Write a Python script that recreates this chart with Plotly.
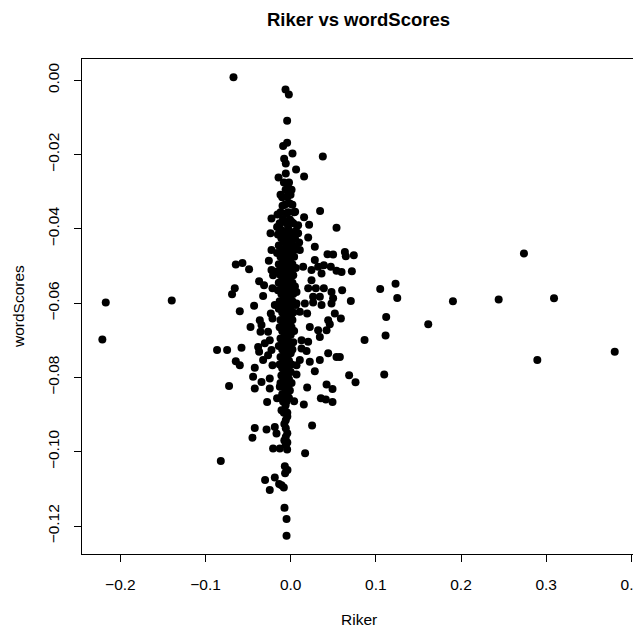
import plotly.graph_objects as go

# Outlying / scattered points
riker_outer = [
    -0.2172, -0.1397, -0.2212, 0.2739, 0.2442, 0.3092, 0.2896, 0.3805,
    0.0636, 0.0647, 0.0741, 0.0597, 0.0718, 0.0604, 0.1051, 0.1231, 0.1251, 0.0706,
    0.1905, 0.0589, 0.1121, 0.1615, 0.1114, 0.0867, 0.0577, 0.0686, 0.0761, 0.1098,
    -0.0672, -0.0061, -0.0022, -0.0042, -0.0042, -0.0089, 0.0021, 0.0377, -0.0077,
    -0.0058, 0.0063, 0.0157, -0.0143, -0.0058, -0.0031, -0.0120, -0.0002, -0.0049,
    -0.0096, -0.0011, 0.0345, -0.0226, -0.0155, 0.0052, 0.0157, 0.0216, 0.0538,
    -0.0058, -0.0089, 0.0009, 0.0087, -0.0160, -0.0031,
    -0.0237, -0.0128, 0.0087, 0.0205, 0.0099, 0.0283, -0.0226, 0.0107, 0.0432, 0.0498,
    -0.0645, -0.0567, -0.0489, -0.0257, -0.0226, -0.0207, 0.0146, 0.0244, 0.0283,
    0.0322, 0.0389, 0.0362, 0.0471, 0.0538, 0.0244, -0.0371, -0.0313, -0.0657,
    -0.0689, -0.0324, -0.0214, 0.0068, 0.0205, 0.0295, 0.0389, 0.0479, 0.0263,
    0.0342, 0.0498, 0.0479, -0.0430, -0.0187, 0.0068, 0.0166, 0.0263, 0.0362,
    -0.0598, -0.0234, 0.0107, 0.0193, 0.0518, -0.0363, -0.0214, 0.0440, -0.0472,
    -0.0343, 0.0224, 0.0459, -0.0355, 0.0322, 0.0421, -0.0266, 0.0342, -0.0246,
    0.0127, 0.0205, -0.0304, -0.0865, -0.0747, -0.0578, -0.0383, -0.0371, -0.0226,
    0.0127, 0.0186, 0.0440, 0.0538, -0.0266, -0.0645, -0.0598, -0.0324, 0.0107,
    0.0224, 0.0342, -0.0214, -0.0422, 0.0068, 0.0283, -0.0442, -0.0343, -0.0246,
    0.0068, -0.0724, -0.0422, -0.0246, 0.0193, 0.0421, 0.0491, -0.0128,
    -0.0277, 0.0040, 0.0154, 0.0354, 0.0412, 0.0491, -0.0160, -0.0108, -0.0058,
    -0.0058, -0.0058, -0.0058, -0.0058, -0.0187, -0.0167, -0.0284, -0.0422, -0.0449,
    0.0251, -0.0207, -0.0128, -0.0042, 0.0169, -0.0821, -0.0069, -0.0038, -0.0066,
    -0.0301, -0.0187, -0.0136, -0.0081, -0.0246, -0.0108, -0.0073, -0.0049, -0.0049,
    -0.0040, -0.0075, -0.0040, -0.0075, -0.0040,
]
wordscores_outer = [
    -0.0598, -0.0593, -0.0698, -0.0466, -0.0590, -0.0587, -0.0753, -0.0731,
    -0.0462, -0.0474, -0.0471, -0.0516, -0.0514, -0.0565, -0.0562, -0.0548, -0.0586, -0.0594,
    -0.0595, -0.0641, -0.0637, -0.0657, -0.0687, -0.0699, -0.0745, -0.0794, -0.0813, -0.0792,
    0.0008, -0.0025, -0.0038, -0.0109, -0.0168, -0.0177, -0.0197, -0.0205, -0.0211,
    -0.0224, -0.0240, -0.0259, -0.0262, -0.0251, -0.0278, -0.0308, -0.0308, -0.0296,
    -0.0338, -0.0332, -0.0352, -0.0372, -0.0361, -0.0354, -0.0369, -0.0389, -0.0397,
    -0.0359, -0.0377, -0.0381, -0.0390, -0.0395, -0.0399,
    -0.0412, -0.0399, -0.0412, -0.0423, -0.0437, -0.0448, -0.0457, -0.0457, -0.0468, -0.0469,
    -0.0496, -0.0492, -0.0509, -0.0486, -0.0511, -0.0525, -0.0502, -0.0511, -0.0484,
    -0.0502, -0.0498, -0.0520, -0.0502, -0.0513, -0.0538, -0.0541, -0.0552, -0.0560,
    -0.0576, -0.0581, -0.0560, -0.0570, -0.0560, -0.0560, -0.0560, -0.0570, -0.0583,
    -0.0583, -0.0587, -0.0601, -0.0607, -0.0605, -0.0601, -0.0601, -0.0598, -0.0605,
    -0.0622, -0.0628, -0.0623, -0.0628, -0.0628, -0.0646, -0.0641, -0.0646, -0.0664,
    -0.0659, -0.0664, -0.0657, -0.0677, -0.0673, -0.0673, -0.0677, -0.0691, -0.0700,
    -0.0700, -0.0704, -0.0708, -0.0726, -0.0726, -0.0720, -0.0718, -0.0731, -0.0726,
    -0.0722, -0.0729, -0.0735, -0.0745, -0.0740, -0.0756, -0.0767, -0.0753, -0.0753,
    -0.0758, -0.0753, -0.0767, -0.0774, -0.0767, -0.0783, -0.0798, -0.0812, -0.0803,
    -0.0792, -0.0823, -0.0830, -0.0830, -0.0827, -0.0819, -0.0831, -0.0825,
    -0.0866, -0.0864, -0.0873, -0.0856, -0.0859, -0.0866, -0.0856, -0.0888, -0.0892,
    -0.0915, -0.0937, -0.0960, -0.0982, -0.0933, -0.0951, -0.0940, -0.0936, -0.0962,
    -0.0929, -0.0991, -0.0991, -0.0994, -0.1004, -0.1025, -0.1039, -0.1049, -0.1058,
    -0.1076, -0.1069, -0.1087, -0.1096, -0.1103, -0.1090, -0.1151, -0.1181, -0.1226,
    -0.0905, -0.0925, -0.0950, -0.0970, -0.0975,
]

# Dense central column near Riker = 0
riker_core = [
    -0.008, -0.002, -0.006, 0.001, -0.010, -0.004, -0.007, 0.002,
    -0.012, -0.003, 0.004, -0.009, -0.001, -0.013, -0.005, 0.003,
    -0.010, -0.002, 0.006, -0.015, -0.006, 0.001, -0.011, -0.003, 0.005,
    -0.008, 0.000, -0.014, -0.005, 0.003, -0.010, -0.002, 0.007,
    -0.016, -0.006, 0.001, -0.012, -0.004, 0.004, -0.009, -0.001,
    -0.014, -0.006, 0.002, -0.010, -0.003, 0.006, -0.016, -0.007, 0.000,
    -0.012, -0.004, 0.003, -0.009, -0.001, -0.014, -0.006, 0.002,
    -0.010, -0.003, 0.005, -0.015, -0.007, 0.000, -0.011, -0.004, 0.003,
    -0.008, -0.001, -0.013, -0.005, 0.002, -0.009, -0.002, 0.006,
    -0.014, -0.006, 0.000, -0.010, -0.003, 0.003, -0.007, 0.000,
    -0.012, -0.004, 0.002, -0.009, -0.001, -0.013, -0.006, 0.001,
    -0.010, -0.003, 0.004, -0.007, 0.000, -0.012, -0.004,
    -0.009, -0.001, 0.003, -0.014, -0.006, -0.010, -0.003, 0.002,
    -0.007, 0.000, -0.012, -0.004, -0.009, -0.002, -0.013, -0.006, 0.001,
    -0.010, -0.003, -0.007, 0.000, -0.011, -0.004, -0.008, -0.002,
    -0.012, -0.005, 0.001, -0.009, -0.003, -0.006, -0.001, -0.010, -0.004,
    -0.007, -0.002, -0.009, -0.005, -0.006, -0.008, -0.004,
]
wordscores_core = [
    -0.0275, -0.0275, -0.0295, -0.0295, -0.0315, -0.0315, -0.0335, -0.0335,
    -0.0355, -0.0355, -0.0355, -0.0375, -0.0375, -0.0385, -0.0385, -0.0385,
    -0.0405, -0.0405, -0.0405, -0.0415, -0.0415, -0.0415, -0.0425, -0.0425, -0.0425,
    -0.0435, -0.0435, -0.0445, -0.0445, -0.0445, -0.0455, -0.0455, -0.0455,
    -0.0465, -0.0465, -0.0465, -0.0475, -0.0475, -0.0475, -0.0485, -0.0485,
    -0.0495, -0.0495, -0.0495, -0.0505, -0.0505, -0.0505, -0.0515, -0.0515, -0.0515,
    -0.0525, -0.0525, -0.0525, -0.0535, -0.0535, -0.0545, -0.0545, -0.0545,
    -0.0555, -0.0555, -0.0555, -0.0565, -0.0565, -0.0565, -0.0575, -0.0575, -0.0575,
    -0.0585, -0.0585, -0.0595, -0.0595, -0.0595, -0.0605, -0.0605, -0.0605,
    -0.0615, -0.0615, -0.0615, -0.0625, -0.0625, -0.0625, -0.0635, -0.0635,
    -0.0645, -0.0645, -0.0645, -0.0655, -0.0655, -0.0665, -0.0665, -0.0665,
    -0.0675, -0.0675, -0.0675, -0.0685, -0.0685, -0.0695, -0.0695,
    -0.0705, -0.0705, -0.0705, -0.0715, -0.0715, -0.0725, -0.0725, -0.0725,
    -0.0735, -0.0735, -0.0745, -0.0745, -0.0755, -0.0755, -0.0765, -0.0765, -0.0765,
    -0.0775, -0.0775, -0.0785, -0.0785, -0.0795, -0.0795, -0.0805, -0.0805,
    -0.0815, -0.0815, -0.0815, -0.0825, -0.0825, -0.0835, -0.0835, -0.0845, -0.0845,
    -0.0855, -0.0855, -0.0865, -0.0865, -0.0875, -0.0895, -0.0895,
]

x_ticks = [-0.2, -0.1, 0.0, 0.1, 0.2, 0.3, 0.4]
y_ticks = [0.00, -0.02, -0.04, -0.06, -0.08, -0.10, -0.12]

riker = riker_outer + riker_core
wordscores = wordscores_outer + wordscores_core

FONT = "Liberation Sans, Arial, Helvetica, sans-serif"

fig = go.Figure(go.Scatter(
    x=riker, y=wordscores, mode="markers",
    marker=dict(color="black", size=8, line=dict(width=0)),
    hoverinfo="x+y",
))

axis_common = dict(
    showline=True, mirror=True, linecolor="black", linewidth=1,
    showgrid=False, zeroline=False, automargin=False,
    ticks="outside", ticklen=7, tickwidth=1, tickcolor="black",
    ticklabeloverflow="allow",
    tickfont=dict(family=FONT, size=15.5, color="black"),
)

# The page body has an 8px default margin, so the figure is 8px smaller.
fig.update_layout(
    width=633, height=621,
    margin=dict(l=74, r=6, t=51, b=75, pad=0, autoexpand=False),
    paper_bgcolor="white", plot_bgcolor="white",
    showlegend=False,
    title=dict(text="<b>Riker vs wordScores</b>", x=0.5, xref="paper",
               xanchor="center", y=1 - 12 / 621, yanchor="middle",
               yref="container",
               font=dict(family=FONT, size=18.5, color="black")),
    xaxis=dict(range=[-0.2451, 0.4043], tickvals=x_ticks, tickformat=".1f",
               ticklabelstandoff=9, **axis_common),
    yaxis=dict(range=[-0.12752, 0.00573], tickvals=y_ticks, tickformat=".2f",
               tickangle=-90, ticklabelstandoff=9, **axis_common),
    annotations=[
        dict(text="Riker", xref="paper", yref="paper", x=0.5, y=0,
             yshift=-65, showarrow=False, xanchor="center", yanchor="middle",
             font=dict(family=FONT, size=15.5, color="black")),
        dict(text="wordScores", xref="paper", yref="paper", x=0, y=0.5,
             xshift=-63.5, showarrow=False, xanchor="center", yanchor="middle",
             textangle=-90, font=dict(family=FONT, size=15.5, color="black")),
    ],
)

fig.write_html("out.html")
